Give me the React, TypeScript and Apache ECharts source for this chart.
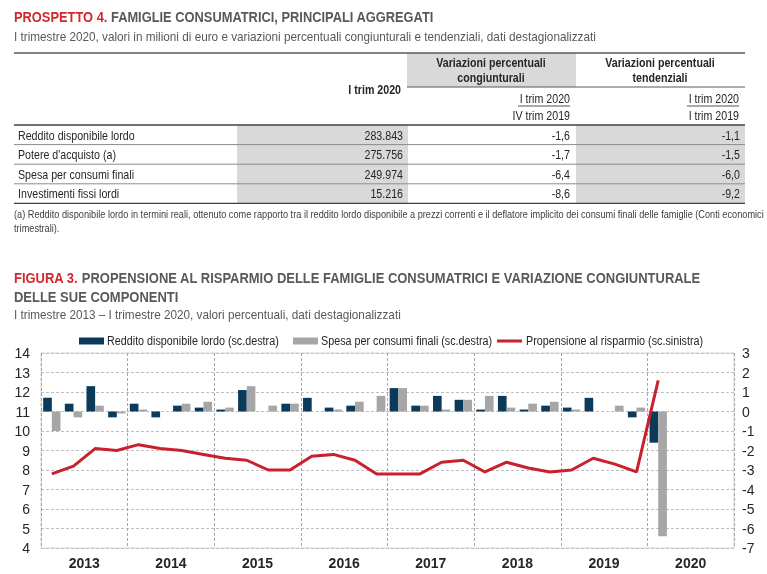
import React, { useEffect, useRef } from "react";
import * as echarts from "echarts";

// ---------- data ----------
const years = ["2013", "2014", "2015", "2016", "2017", "2018", "2019", "2020"];
const quarterNames = ["I", "II", "III", "IV"];
const quarters = years.flatMap((y) => quarterNames.map((q) => `${q} trim ${y}`));

// variazioni congiunturali (scala destra)
const reddito = [0.7, 0.4, 1.3, -0.3, 0.4, -0.3, 0.3, 0.2, 0.1, 1.1, 0, 0.4, 0.7, 0.2, 0.3, 0, 1.2, 0.3, 0.8, 0.6, 0.1, 0.8, 0.1, 0.3, 0.2, 0.7, 0, -0.3, -1.6];
const spesa = [-1.0, -0.3, 0.3, -0.1, 0.1, 0, 0.4, 0.5, 0.2, 1.3, 0.3, 0.4, 0, 0.1, 0.5, 0.8, 1.2, 0.3, 0.1, 0.6, 0.8, 0.2, 0.4, 0.5, 0.1, 0, 0.3, 0.2, -6.4];
// propensione al risparmio (scala sinistra)
const propensione = [7.8, 8.2, 9.1, 9.0, 9.3, 9.1, 9.0, 8.8, 8.6, 8.5, 8.0, 8.0, 8.7, 8.8, 8.5, 7.8, 7.8, 7.8, 8.4, 8.5, 7.9, 8.4, 8.1, 7.9, 8.0, 8.6, 8.3, 7.9, 12.6];

const seriesNames = [
  "Reddito disponibile lordo (sc.destra)",
  "Spesa per consumi finali (sc.destra)",
  "Propensione al risparmio (sc.sinistra)",
];

// table
const rowLabels = ["Reddito disponibile lordo", "Potere d'acquisto (a)", "Spesa per consumi finali", "Investimenti fissi lordi"];
const valoriTrim = ["283.843", "275.756", "249.974", "15.216"];
const varCong = ["-1,6", "-1,7", "-6,4", "-8,6"];
const varTend = ["-1,1", "-1,5", "-6,0", "-9,2"];

// ---------- style ----------
const FONT = "'Liberation Sans', Arial, sans-serif";
const SX = 0.82;
const RED = "#d3272c";
const GRAYT = "#595959";
const TXT = "#262626";
const NAVY = "#0b3a5b";
const BARGRAY = "#a6a6a6";
const LINERED = "#c9202e";

function txt(x: number, y: number, text: string, size: number, o: any = {}) {
  return {
    type: "text",
    x,
    y,
    scaleX: o.sx || SX,
    silent: true,
    style: {
      text,
      fontFamily: FONT,
      fontSize: size,
      fontWeight: o.weight || "normal",
      fill: o.fill || TXT,
      textAlign: o.align || "left",
      textVerticalAlign: "middle",
    },
  };
}
function rich(x: number, y: number, red: string, rest: string, size: number, sx: number) {
  const base = { fontFamily: FONT, fontSize: size, fontWeight: "bold" };
  return {
    type: "text",
    x,
    y,
    scaleX: sx,
    silent: true,
    style: {
      text: `{r|${red}}{g| ${rest}}`,
      textVerticalAlign: "middle",
      rich: {
        r: { ...base, fill: RED, color: RED },
        g: { ...base, fill: GRAYT, color: GRAYT },
      },
    },
  };
}
function hline(x1: number, x2: number, y: number, stroke: string, w: number) {
  return { type: "line", silent: true, shape: { x1, y1: y, x2, y2: y }, style: { stroke, lineWidth: w } };
}
function box(x: number, y: number, w: number, h: number, fill: string) {
  return { type: "rect", silent: true, shape: { x, y, width: w, height: h }, style: { fill } };
}

export default function App() {
  const ref = useRef<HTMLDivElement>(null);
  useEffect(() => {
    if (!ref.current) return;
    const chart = echarts.init(ref.current, null, { renderer: "svg" });

    const rowTop = 125;
    const rowH = 19.6;
    const g: any[] = [];
    // ---- table ----
    g.push(rich(14, 17, "PROSPETTO 4.", "FAMIGLIE CONSUMATRICI, PRINCIPALI AGGREGATI", 15.5, 0.83));
    g.push(txt(14, 37, "I trimestre 2020, valori in milioni di euro e variazioni percentuali congiunturali e tendenziali, dati destagionalizzati", 13.5, { fill: GRAYT, sx: 0.87 }));
    g.push(box(407, 53, 169, 34, "#d9d9d9"));
    rowLabels.forEach((_, i) => {
      g.push(box(237, rowTop + i * rowH, 171, rowH, "#d9d9d9"));
      g.push(box(576, rowTop + i * rowH, 169, rowH, "#d9d9d9"));
    });
    g.push(hline(14, 745, 53, "#595959", 1.5));
    g.push(hline(407, 745, 87, "#595959", 1));
    g.push(hline(14, 745, rowTop, "#404040", 1.5));
    for (let i = 1; i < 4; i++) g.push(hline(14, 745, rowTop + i * rowH, "#8c8c8c", 1));
    g.push(hline(14, 745, rowTop + 4 * rowH, "#404040", 1.2));

    g.push(txt(491, 63, "Variazioni percentuali", 13, { weight: "bold", align: "center" }));
    g.push(txt(491, 78, "congiunturali", 13, { weight: "bold", align: "center" }));
    g.push(txt(660, 63, "Variazioni percentuali", 13, { weight: "bold", align: "center" }));
    g.push(txt(660, 78, "tendenziali", 13, { weight: "bold", align: "center" }));
    g.push(txt(401, 90, "I trim 2020", 13, { weight: "bold", align: "right" }));
    g.push(txt(570, 99, "I trim 2020", 13, { align: "right" }));
    g.push(hline(518, 570, 106, TXT, 0.8));
    g.push(txt(570, 116, "IV trim 2019", 13, { align: "right" }));
    g.push(txt(739, 99, "I trim 2020", 13, { align: "right" }));
    g.push(hline(687, 739, 106, TXT, 0.8));
    g.push(txt(739, 116, "I trim 2019", 13, { align: "right" }));

    rowLabels.forEach((lab, i) => {
      const y = rowTop + (i + 0.5) * rowH + 0.5;
      g.push(txt(18, y, lab, 13));
      g.push(txt(403, y, valoriTrim[i], 13, { align: "right" }));
      g.push(txt(570, y, varCong[i], 13, { align: "right" }));
      g.push(txt(740, y, varTend[i], 13, { align: "right" }));
    });
    g.push(txt(14, 214, "(a) Reddito disponibile lordo in termini reali, ottenuto come rapporto tra il reddito lordo disponibile a prezzi correnti e il deflatore implicito dei consumi finali delle famiglie (Conti economici", 10.5, { fill: "#404040", sx: 0.875 }));
    g.push(txt(14, 228, "trimestrali).", 10.5, { fill: "#404040", sx: 0.875 }));

    // ---- figure titles ----
    g.push(rich(14, 278, "FIGURA 3.", "PROPENSIONE AL RISPARMIO DELLE FAMIGLIE CONSUMATRICI E VARIAZIONE CONGIUNTURALE", 15.5, 0.838));
    g.push(txt(14, 297, "DELLE SUE COMPONENTI", 15.5, { weight: "bold", fill: GRAYT, sx: 0.838 }));
    g.push(txt(14, 315, "I trimestre 2013 \u2013 I trimestre 2020, valori percentuali, dati destagionalizzati", 13.5, { fill: GRAYT, sx: 0.87 }));

    // ---- legend ----
    g.push(box(79, 337.5, 25, 7, NAVY));
    g.push(txt(107, 341, seriesNames[0], 13.3, { sx: 0.81 }));
    g.push(box(293, 337.5, 25, 7, BARGRAY));
    g.push(txt(321, 341, seriesNames[1], 13.3, { sx: 0.81 }));
    g.push(hline(497, 522, 341, LINERED, 3));
    g.push(txt(526, 341, seriesNames[2], 13.3, { sx: 0.81 }));

    const axisFont = { fontFamily: "'Liberation Sans Narrow', 'Liberation Sans', Arial, sans-serif", fontSize: 14, color: TXT };

    chart.setOption({
      animation: false,
      grid: { left: 41, right: 33, top: 353, bottom: 26, show: true, borderColor: "#d9d9d9", borderWidth: 1, backgroundColor: "transparent" },
      graphic: g,
      xAxis: [
        {
          type: "category",
          data: quarters,
          boundaryGap: true,
          show: false,
        },
        {
          type: "category",
          data: years,
          position: "bottom",
          boundaryGap: true,
          axisLine: { show: false },
          axisTick: { show: false },
          axisLabel: { ...axisFont, fontWeight: "bold", fontSize: 14, margin: 8 },
          splitLine: { show: true, interval: 0, lineStyle: { color: "#a6a6a6", type: [3, 2], width: 1 } },
        },
      ],
      yAxis: [
        {
          type: "value",
          min: 4,
          max: 14,
          interval: 1,
          position: "left",
          axisLine: { show: false },
          axisTick: { show: false },
          axisLabel: { ...axisFont, margin: 11 },
          splitLine: { show: true, lineStyle: { color: "#bfbfbf", type: [3, 2], width: 1 } },
        },
        {
          type: "value",
          min: -7,
          max: 3,
          interval: 1,
          position: "right",
          axisLine: { show: false },
          axisTick: { show: false },
          axisLabel: { ...axisFont, margin: 8 },
          splitLine: { show: false },
        },
      ],
      series: [
        {
          name: seriesNames[0],
          type: "bar",
          xAxisIndex: 0,
          yAxisIndex: 1,
          data: reddito,
          itemStyle: { color: NAVY },
          barGap: "0%",
          barCategoryGap: "20%",
          z: 2,
        },
        {
          name: seriesNames[1],
          type: "bar",
          xAxisIndex: 0,
          yAxisIndex: 1,
          data: spesa,
          itemStyle: { color: BARGRAY },
          barGap: "0%",
          barCategoryGap: "20%",
          z: 2,
        },
        {
          name: seriesNames[2],
          type: "line",
          xAxisIndex: 0,
          yAxisIndex: 0,
          data: propensione,
          showSymbol: false,
          symbol: "none",
          lineStyle: { color: LINERED, width: 3 },
          itemStyle: { color: LINERED },
          z: 5,
        },
      ],
    });
    return () => chart.dispose();
  }, []);
  return <div ref={ref} style={{ position: "fixed", left: 0, top: 0, width: 767, height: 574 }} />;
}
